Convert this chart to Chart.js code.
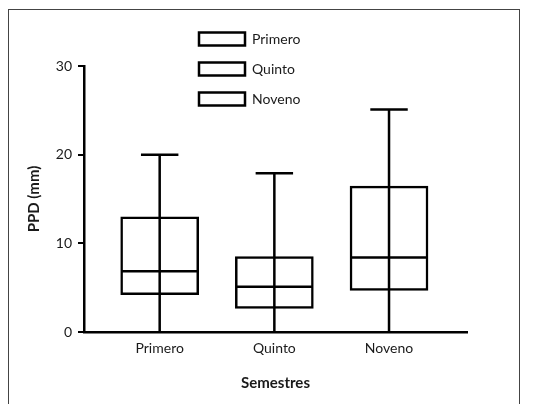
<!DOCTYPE html>
<html>
<head>
<meta charset="utf-8">
<script src="https://cdn.jsdelivr.net/npm/chart.js@4"></script>
<style>
  html, body { margin: 0; padding: 0; background: #fff; overflow: hidden; }
  #marco { position: absolute; left: 8px; top: 9px; width: 510px; height: 420px; border: 1px solid #444; }
  canvas { position: absolute; left: 0; top: 0; }
</style>
</head>
<body>
<div id="marco"></div>
<canvas id="grafico" width="544" height="404"></canvas>
<script>
// semestres y resumen de cajas (PPD en mm)
var semestres = ['Primero', 'Quinto', 'Noveno']
var posiciones = [1, 2, 3]
var minimos = [0, 0, 0]
var q1 = [4.2, 2.65, 4.7]
var medianas = [6.85, 5.1, 8.4]
var q3 = [13.0, 8.5, 16.45]
var maximos = [20, 17.9, 25.1]
var ticksY = [0, 10, 20, 30]

var fuente = 'Lato, "Open Sans", sans-serif'
var colorTexto = '#1a1a1a'

// bigotes, tapas y medianas dibujados con las escalas del grafico
var bigotes = {
    id: 'bigotes',
    afterDatasetsDraw(chart) {
        var ctx = chart.ctx
        var x = chart.scales.x
        var y = chart.scales.y
        ctx.save()
        ctx.strokeStyle = '#000'
        ctx.lineWidth = 2.5
        for (var i = 0; i < semestres.length; i++) {
            var bar = chart.getDatasetMeta(i).data[0]
            var cx = x.getPixelForValue(posiciones[i])
            var mitad = bar.width / 2
            var tapa = bar.width * 0.24
            var yMax = y.getPixelForValue(maximos[i])
            var yMed = y.getPixelForValue(medianas[i])
            ctx.beginPath()
            ctx.moveTo(cx, y.getPixelForValue(minimos[i]))
            ctx.lineTo(cx, yMax)
            ctx.moveTo(cx - tapa, yMax)
            ctx.lineTo(cx + tapa, yMax)
            ctx.moveTo(cx - mitad + 1, yMed)
            ctx.lineTo(cx + mitad - 1, yMed)
            ctx.stroke()
        }
        ctx.restore()
    }
}

// la leyenda va arriba, encima de las cajas
var moverLeyenda = {
    id: 'moverLeyenda',
    afterLayout(chart) {
        var l = chart.legend
        var dx = chart.chartArea.left + 99 - l.left
        var dy = 16 - l.top
        l.left += dx; l.right += dx
        l.top += dy; l.bottom += dy
    }
}

var ctx = document.querySelector('#grafico').getContext('2d')
var grafico = new Chart(ctx, {
    type: 'bar',
    data: {
        datasets: semestres.map(function (s, i) {
            return {
                label: s,
                data: [{ x: posiciones[i], y: [q1[i], q3[i]] }],
                backgroundColor: '#fff',
                borderColor: '#000',
                borderWidth: 2.5,
                borderSkipped: false,
                barThickness: 78,
                grouped: false
            }
        })
    },
    options: {
        responsive: false,
        animation: false,
        layout: { padding: { top: 66, right: 77, bottom: 0, left: 0 } },
        plugins: {
            tooltip: { enabled: false },
            legend: {
                position: 'chartArea',
                align: 'start',
                labels: {
                    boxWidth: 46,
                    boxHeight: 13,
                    padding: 16,
                    color: colorTexto,
                    font: { family: fuente, size: 14 }
                }
            }
        },
        scales: {
            x: {
                type: 'linear',
                offset: false,
                bounds: 'ticks',
                min: 0.34,
                max: 3.68,
                afterBuildTicks: function (axis) {
                    axis.ticks = posiciones.map(function (p) { return { value: p } })
                },
                afterFit: function (s) { s.height = 72 },
                grid: { display: false, drawTicks: false, offset: false },
                border: { display: true, color: '#000', width: 2.5 },
                ticks: {
                    padding: 8,
                    color: colorTexto,
                    font: { family: fuente, size: 14 },
                    callback: function (v) { return semestres[v - 1] }
                },
                title: {
                    display: true,
                    text: 'Semestres',
                    color: colorTexto,
                    font: { family: fuente, size: 15, weight: 'bold' },
                    padding: { top: 0, bottom: 12 }
                }
            },
            y: {
                min: 0,
                max: 30,
                afterBuildTicks: function (axis) {
                    axis.ticks = ticksY.map(function (v) { return { value: v } })
                },
                afterFit: function (s) { s.width = 84 },
                grid: { drawOnChartArea: false, drawTicks: true, tickLength: 6, color: '#000', lineWidth: 2 },
                border: { display: true, color: '#000', width: 2.5 },
                ticks: {
                    padding: 6,
                    color: colorTexto,
                    font: { family: fuente, size: 14 }
                },
                title: {
                    display: true,
                    text: 'PPD (mm)',
                    color: colorTexto,
                    font: { family: fuente, size: 15, weight: 'bold' },
                    padding: { top: 25, bottom: 0 }
                }
            }
        }
    },
    plugins: [bigotes, moverLeyenda]
})
</script>
</body>
</html>
